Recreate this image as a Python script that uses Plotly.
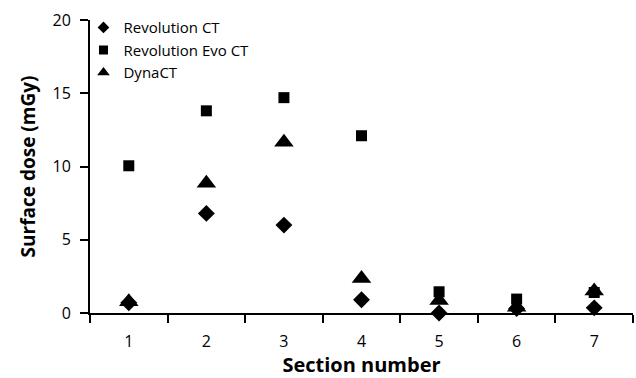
import plotly.graph_objects as go

sections = [1, 2, 3, 4, 5, 6, 7]
tick_labels = ["1", "2", "3", "4", "5", "6", "7"]
revolution_ct = [0.7, 6.8, 6.0, 0.9, 0.0, 0.3, 0.35]
revolution_evo_ct = [10.05, 13.8, 14.7, 12.1, 1.45, 0.95, 1.4]
dyna_ct = [0.77, 8.85, 11.65, 2.35, 0.85, 0.4, 1.5]

series_names = ["Revolution CT", "Revolution Evo CT", "DynaCT"]
series_values = [revolution_ct, revolution_evo_ct, dyna_ct]
symbols = ["diamond", "square", "triangle-up"]
plot_sizes = [13, 11, 17]
legend_sizes = [9, 9, 11]

FONT = "Open Sans"

fig = go.Figure()
for name, vals, sym, sz in zip(series_names, series_values, symbols, plot_sizes):
    fig.add_trace(go.Scatter(x=sections, y=vals, mode="markers", name=name, showlegend=False,
                             marker=dict(symbol=sym, size=sz, color="black"), cliponaxis=False))
for name, sym, sz in zip(series_names, symbols, legend_sizes):
    fig.add_trace(go.Scatter(x=[None], y=[None], mode="markers", name=name, showlegend=True,
                             marker=dict(symbol=sym, size=sz, color="black")))

fig.update_layout(
    width=636, height=378,
    margin=dict(l=90, r=3, t=20, b=65),
    paper_bgcolor="white", plot_bgcolor="white",
    font=dict(family=FONT, color="black", size=16),
    showlegend=True,
    legend=dict(x=-0.012, y=1.03, xanchor="left", yanchor="top",
                font=dict(size=15, family=FONT), bgcolor="rgba(0,0,0,0)",
                itemsizing="trace", tracegroupgap=0, itemwidth=30),
    xaxis=dict(range=[0.5, 7.5], tickmode="array", tickvals=sections, ticktext=tick_labels,
               ticks="", showgrid=False, zeroline=False, showline=True, linecolor="black",
               linewidth=2, tickfont=dict(size=16), automargin=False, ticklabelstandoff=13,
               minor=dict(tickmode="array", tickvals=[0.5 + i for i in range(8)],
                          ticks="outside", ticklen=8, tickwidth=2, tickcolor="black", showgrid=False),
               title=dict(text="<b>Section number</b>", font=dict(size=20), standoff=5)),
    yaxis=dict(range=[0, 20], tickvals=[0, 5, 10, 15, 20], ticks="outside", ticklen=8,
               tickwidth=2, tickcolor="black", showgrid=False, zeroline=False, showline=True,
               linecolor="black", linewidth=2, tickfont=dict(size=16), automargin=False,
               ticklabelstandoff=6,
               title=dict(text="<b>Surface dose (mGy)</b>", font=dict(size=19), standoff=12)),
)

fig.write_html("out.html", config={"displayModeBar": False},
               post_script="document.body.style.margin='0';document.body.style.overflow='hidden';")
